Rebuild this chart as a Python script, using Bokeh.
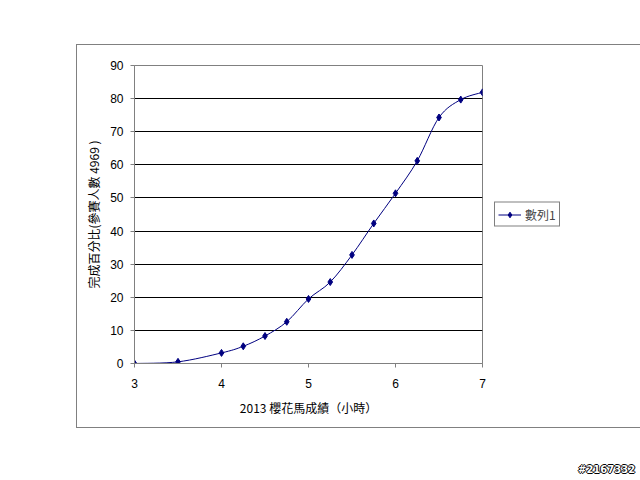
from bokeh.plotting import figure
from bokeh.models import (Legend, LegendItem, Range1d, FixedTicker,
                          ColumnDataSource, Div)
from bokeh.layouts import column
from bokeh.embed import file_html
from bokeh.resources import INLINE

# ---- data ----
hours = [3.0, 3.5, 4.0, 4.25, 4.5, 4.75, 5.0, 5.25, 5.5, 5.75, 6.0, 6.25, 6.5, 6.75, 7.0]
percent = [0.0, 0.5, 3.2, 5.2, 8.3, 12.6, 19.5, 24.6, 32.8, 42.3, 51.4, 61.2, 74.3, 79.7, 81.9]
series_name = "數列1"
x_ticks = [3, 4, 5, 6, 7]
y_ticks = [0, 10, 20, 30, 40, 50, 60, 70, 80, 90]
x_title = "2013 櫻花馬成績（小時）"
y_title = "完成百分比(參賽人數 4969 )"
watermark = "#2167332"

CJK = "Noto Sans CJK TC"
NAVY = "#000080"

# smoothed (Excel-style) curve segments built from the data points
n = len(hours)
x0, y0, x1, y1, cx0, cy0, cx1, cy1 = [], [], [], [], [], [], [], []
for i in range(n - 1):
    im1 = max(i - 1, 0)
    ip2 = min(i + 2, n - 1)
    x0.append(hours[i]); y0.append(percent[i])
    x1.append(hours[i + 1]); y1.append(percent[i + 1])
    cx0.append(hours[i] + (hours[i + 1] - hours[im1]) / 6)
    cy0.append(percent[i] + (percent[i + 1] - percent[im1]) / 6)
    cx1.append(hours[i + 1] - (hours[ip2] - hours[i]) / 6)
    cy1.append(percent[i + 1] - (percent[ip2] - percent[i]) / 6)
seg = ColumnDataSource(dict(x0=x0, y0=y0, x1=x1, y1=y1, cx0=cx0, cy0=cy0, cx1=cx1, cy1=cy1))
pts = ColumnDataSource(dict(x=hours, y=percent))

p = figure(width=485, height=382, output_backend="svg", toolbar_location=None,
           x_range=Range1d(3, 7), y_range=Range1d(0, 90),
           min_border_left=57, min_border_right=80,
           min_border_top=20, min_border_bottom=64)
p.frame_width = 348
p.frame_height = 298
p.margin = (45, 0, 0, 77)
p.align = "start"
p.styles = {"outline": "1.5px solid #808080"}
p.background_fill_color = "white"
p.border_fill_color = "white"
p.outline_line_color = "#808080"
p.outline_line_width = 1

p.xgrid.visible = False
p.ygrid.ticker = FixedTicker(ticks=y_ticks)
p.ygrid.grid_line_color = "black"
p.ygrid.grid_line_width = 1

for ax, ticks in ((p.xaxis[0], x_ticks), (p.yaxis[0], y_ticks)):
    ax.ticker = FixedTicker(ticks=ticks)
    ax.axis_line_color = "#808080"
    ax.major_tick_line_color = "#808080"
    ax.major_tick_out = 4
    ax.major_tick_in = 0
    ax.minor_tick_line_color = None
    ax.major_label_text_font = "Liberation Sans"
    ax.major_label_text_font_size = "12px"
    ax.major_label_text_color = "black"
    ax.axis_label_text_font = CJK
    ax.axis_label_text_font_size = "12px"
    ax.axis_label_text_font_style = "normal"
    ax.axis_label_text_color = "black"

p.xaxis.axis_label = x_title
p.yaxis.axis_label = y_title
p.xaxis.major_label_standoff = 11
p.xaxis.axis_label_standoff = 8
p.yaxis.major_label_standoff = 7
p.yaxis.axis_label_standoff = 5

curve = p.bezier(x0="x0", y0="y0", x1="x1", y1="y1", cx0="cx0", cy0="cy0",
                 cx1="cx1", cy1="cy1", source=seg, line_color=NAVY, line_width=1)
marks = p.scatter("x", "y", source=pts, marker="diamond", size=7,
                  fill_color=NAVY, line_color=NAVY)

legend = Legend(items=[LegendItem(label=series_name, renderers=[curve, marks])],
                location="center_left", orientation="vertical",
                border_line_color="black", border_line_width=1,
                background_fill_color="white", background_fill_alpha=1,
                padding=3, margin=12, spacing=0, glyph_width=23, glyph_height=14,
                label_height=14, label_standoff=4,
                label_text_font=CJK, label_text_font_size="12px")
p.add_layout(legend, "right")

wm = Div(text=watermark, width=60, height=14, margin=(36, 0, 0, 578),
         styles={"font-family": "DejaVu Sans", "font-size": "10px",
                 "font-weight": "bold", "color": "white",
                 "text-shadow": "-1px 0 #000, 1px 0 #000, 0 -1px #000, 0 1px #000",
                 "line-height": "14px"})

layout = column(p, wm)
open("out.html", "w").write(file_html(layout, INLINE))
